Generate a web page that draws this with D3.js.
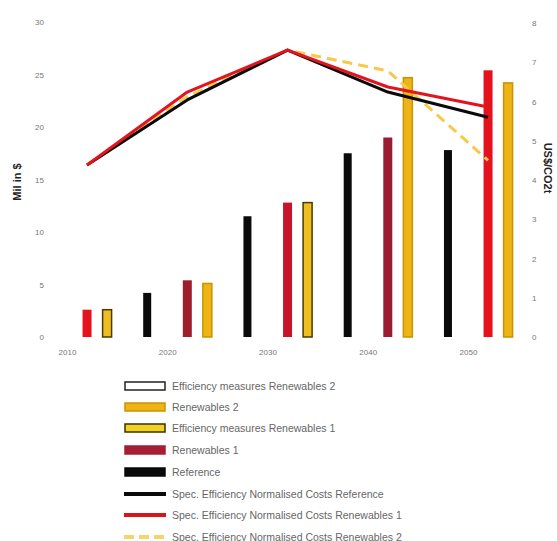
<!DOCTYPE html>
<html><head><meta charset="utf-8">
<script src="https://cdn.jsdelivr.net/npm/d3@7"></script>
<style>
body{margin:0;background:#fff;}
text{font-family:"Liberation Sans",Arial,sans-serif;}
</style></head>
<body><svg id="c" width="557" height="541"></svg>
<script>
const years = [2010, 2020, 2030, 2040, 2050];
const xTickLabels = ["2010", "2020", "2030", "2040", "2050"];
const leftTicks = [0, 5, 10, 15, 20, 25, 30];
const rightTicks = [0, 1, 2, 3, 4, 5, 6, 7, 8];
// bars (left axis)
const reference = [null, 4.2, 11.5, 17.5, 17.8];
const renewables1 = [2.6, 5.4, 12.8, 19.0, 25.4];
const renewables2 = [null, 5.1, null, 24.7, 24.2];
const effRenewables1 = [2.6, null, 12.8, null, null];
const effRenewables2 = [null, null, null, null, null];
// lines (right axis)
const costReference = [4.38, 6.04, 7.31, 6.24, 5.6];
const costRenewables1 = [4.38, 6.24, 7.31, 6.37, 5.86];
const costRenewables2 = [4.38, 6.12, 7.31, 6.78, 4.5];
const legendLabels = [
  "Efficiency measures Renewables 2",
  "Renewables 2",
  "Efficiency measures Renewables 1",
  "Renewables 1",
  "Reference",
  "Spec. Efficiency Normalised Costs Reference",
  "Spec. Efficiency Normalised Costs Renewables 1",
  "Spec. Efficiency Normalised Costs Renewables 2"
];
const red1Shades = ["#e3141d", "#9e1f2c", "#c8142a", "#9b1b33", "#e3121d"];

const svg = d3.select("#c");
const x = d3.scaleLinear().domain([2010, 2050]).range([67, 468]);
const yL = d3.scaleLinear().domain([0, 30]).range([337, 22]);
const yR = d3.scaleLinear().domain([0, 8]).range([337, 23]);

// left axis
const gL = svg.append("g").attr("transform", "translate(46,0)")
  .call(d3.axisLeft(yL).tickValues(leftTicks).tickSize(0).tickPadding(2));
gL.select(".domain").remove();
gL.selectAll("text").attr("fill", "#777").attr("font-size", 8);
// right axis
const gR = svg.append("g").attr("transform", "translate(530,0)")
  .call(d3.axisRight(yR).tickValues(rightTicks).tickSize(0).tickPadding(2));
gR.select(".domain").remove();
gR.selectAll("text").attr("fill", "#777").attr("font-size", 8);
// x axis
const gX = svg.append("g").attr("transform", "translate(0,347)")
  .call(d3.axisBottom(x).tickValues(years).tickFormat((d, i) => xTickLabels[i]).tickSize(0).tickPadding(2));
gX.select(".domain").remove();
gX.selectAll("text").attr("fill", "#777").attr("font-size", 8);

// axis titles
svg.append("text").attr("transform", "translate(21,182) rotate(-90)")
  .attr("text-anchor", "middle").attr("font-size", 11).attr("font-weight", "bold").attr("fill", "#222").text("Mil in $");
svg.append("text").attr("transform", "translate(544,168) rotate(90)")
  .attr("text-anchor", "middle").attr("font-size", 11).attr("font-weight", "bold").attr("fill", "#222").text("US$/CO2t");

function bars(vals, offset, w, fill, stroke, fillFn) {
  const data = years.map((yv, i) => ({yv, v: vals[i], i})).filter(d => d.v != null);
  svg.append("g").selectAll("rect").data(data).join("rect")
    .attr("x", d => x(d.yv + offset) - w / 2)
    .attr("width", w)
    .attr("y", d => yL(d.v))
    .attr("height", d => yL(0) - yL(d.v))
    .attr("fill", d => fillFn ? fillFn(d) : fill)
    .attr("stroke", stroke || "none")
    .attr("stroke-width", stroke ? 1.5 : 0);
}
bars(reference, -2, 8, "#0a0a0a");
bars(effRenewables2, 0, 9, "#fff", "#111");
bars(renewables1, 2, 9, "#a51e36", null, d => red1Shades[d.i]);
bars(renewables2, 4, 9, "#eeb416", "#c99400");
bars(effRenewables1, 4, 9, "#eebd22", "#4a3a00");

function line(vals, color, dash) {
  const data = years.map((yv, i) => ({yv, v: vals[i]}));
  svg.append("path").datum(data)
    .attr("fill", "none").attr("stroke", color).attr("stroke-width", 3)
    .attr("stroke-dasharray", dash || null)
    .attr("stroke-linejoin", "round")
    .attr("d", d3.line().x(d => x(d.yv + 2)).y(d => yR(d.v)));
}
line(costRenewables2, "#f6c94a", "10,6");
line(costReference, "#0a0a0a");
line(costRenewables1, "#e3141d");

// legend
const legY = [386, 407, 428, 450, 472, 494, 515, 537];
const lg = svg.append("g");
legendLabels.forEach((lab, i) => {
  const y0 = legY[i];
  if (i < 5) {
    const fills = ["#ffffff", "#eeb416", "#f2d21e", "#a51e36", "#0a0a0a"];
    const strokes = ["#222", "#c99400", "#3a3000", "#a51e36", "#0a0a0a"];
    lg.append("rect").attr("x", 125).attr("y", y0 - 4).attr("width", 40).attr("height", 8)
      .attr("fill", fills[i]).attr("stroke", strokes[i]).attr("stroke-width", 1.5);
  } else {
    const cols = ["#0a0a0a", "#d8141d", "#f6d66a"];
    lg.append("line").attr("x1", 124).attr("x2", 166).attr("y1", y0).attr("y2", y0)
      .attr("stroke", cols[i - 5]).attr("stroke-width", 4)
      .attr("stroke-dasharray", i === 7 ? "10,5" : null);
  }
  lg.append("text").attr("x", 172).attr("y", y0 + 3.5).attr("font-size", 10.5).attr("fill", "#666").text(lab);
});
</script></body></html>
